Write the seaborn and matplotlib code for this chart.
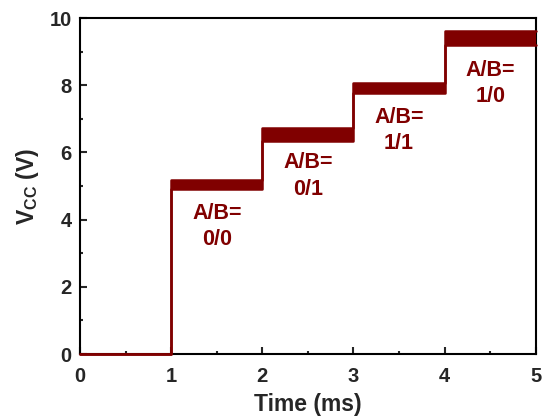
import matplotlib
matplotlib.use('Agg')
import matplotlib.pyplot as plt
import seaborn as sns
import pandas as pd

# step edges (ms) and ripple band of each level (V)
t_ms = [0, 1, 2, 3, 4, 5]
v_low = [0.0, 4.92, 6.35, 7.78, 9.20, 9.20]
v_high = [0.0, 5.18, 6.72, 8.08, 9.62, 9.62]
labels = ['A/B=\n0/0', 'A/B=\n0/1', 'A/B=\n1/1', 'A/B=\n1/0']
label_x = [1.5, 2.5, 3.5, 4.5]
label_y = [3.8, 5.3, 6.65, 8.05]

df = pd.DataFrame({'t': t_ms, 'low': v_low, 'high': v_high})

sns.set_style('ticks')
plt.rcParams['font.family'] = ['Liberation Sans', 'DejaVu Sans']
plt.rcParams['font.weight'] = 'bold'
plt.rcParams['mathtext.fontset'] = 'custom'
plt.rcParams['mathtext.rm'] = 'Liberation Sans'
plt.rcParams['mathtext.bf'] = 'Liberation Sans:bold'

red = '#800000'
fig = plt.figure(figsize=(5.42, 4.2), dpi=100)
ax = fig.add_axes([0.1476, 0.157, 0.841, 0.8])

ax.fill_between(df['t'], df['low'], df['high'], step='post', color=red, lw=0, zorder=3)
sns.lineplot(data=df, x='t', y='low', drawstyle='steps-post', color=red, lw=1.8, ax=ax,
             zorder=4, clip_on=False)
sns.lineplot(data=df, x='t', y='high', drawstyle='steps-post', color=red, lw=1.8, ax=ax,
             zorder=4, clip_on=False)

for x, y, s in zip(label_x, label_y, labels):
    ax.text(x, y, s, color=red, fontsize=15.5, fontweight='bold', ha='center', va='center',
            linespacing=1.35)

ax.set_xlim(0, 5)
ax.set_ylim(0, 10)
ax.set_xticks([0, 1, 2, 3, 4, 5])
ax.set_yticks([0, 2, 4, 6, 8, 10])
ax.set_xticks([0.5, 1.5, 2.5, 3.5, 4.5], minor=True)
ax.set_yticks([1, 3, 5, 7, 9], minor=True)
ax.tick_params(which='major', direction='in', length=5, width=1.5, labelsize=14.5)
ax.tick_params(axis='x', which='major', pad=9)
ax.tick_params(axis='y', which='major', pad=6)
ax.tick_params(which='minor', direction='in', length=2, width=1.5)
for lab in ax.get_xticklabels() + ax.get_yticklabels():
    lab.set_fontweight('bold')
for sp in ax.spines.values():
    sp.set_visible(True)
    sp.set_linewidth(1.5)
    sp.set_color('black')

ax.set_xlabel('Time (ms)', fontsize=16.5, fontweight='bold', labelpad=5)
ax.set_ylabel(r'V$_{\mathrm{CC}}$ (V)', fontsize=16.5, fontweight='bold', labelpad=6)

fig.savefig('out.png', dpi=100)
